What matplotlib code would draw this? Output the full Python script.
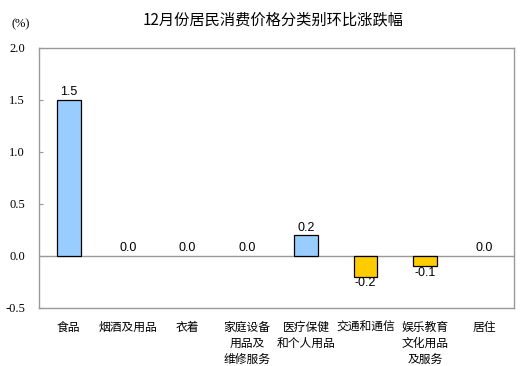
import numpy as np
import matplotlib.pyplot as plt

categories = ['食品', '烟酒及用品', '衣着', '家庭设备\n用品及\n维修服务', '医疗保健\n和个人用品',
              '交通和通信', '娱乐教育\n文化用品\n及服务', '居住']
values = [1.5, 0.0, 0.0, 0.0, 0.2, -0.2, -0.1, 0.0]
yticks = [-0.5, 0.0, 0.5, 1.0, 1.5, 2.0]
title = '12月份居民消费价格分类别环比涨跌幅'

cjk = ['Noto Sans CJK SC', 'DejaVu Sans']
serif = 'Liberation Serif'
sans = 'Liberation Sans'
blue = '#99CCFF'
gold = '#FFCC00'
grey = '#999999'

fig = plt.figure(figsize=(5.26, 3.66), dpi=100)
W, H = 526, 366
ax = fig.add_axes([39 / W, (H - 308) / H, (514 - 39) / W, (308 - 48) / H])

x = np.arange(len(categories))
colors = [blue if v >= 0 else gold for v in values]
edges = ['black' if v != 0 else 'none' for v in values]
ax.bar(x, values, width=0.4, color=colors, edgecolor=edges, linewidth=0.9, zorder=3)

for xi, v in zip(x, values):
    if v >= 0:
        ax.text(xi, v + 0.015, '%.1f' % v, ha='center', va='bottom', fontsize=9, family=sans)
    else:
        ax.text(xi, v - 0.005, '%.1f' % v, ha='center', va='top', fontsize=9, family=sans)

ax.axhline(0, color=grey, linewidth=1, zorder=2)
ax.set_xlim(-0.5, len(categories) - 0.5)
ax.set_ylim(-0.5, 2.0)
ax.set_yticks(yticks)
ax.set_yticklabels(['%.1f' % t for t in yticks], fontsize=9)
for lbl in ax.get_yticklabels():
    lbl.set_fontfamily(serif)
ax.tick_params(axis='y', direction='in', length=3, color=grey, pad=10)
ax.set_xticks(x)
ax.set_xticklabels(categories, fontsize=8.5, linespacing=1.3)
for lbl in ax.get_xticklabels():
    lbl.set_fontfamily(cjk)
ax.tick_params(axis='x', length=0, pad=9)
for s in ax.spines.values():
    s.set_color(grey)
    s.set_linewidth(1)

fig.text(273 / W, 1 - 20 / H, title, ha='center', va='center', fontsize=11, family=cjk)
fig.text(21 / W, 1 - 24 / H, '(%)', ha='center', va='center', fontsize=9, family=serif)

fig.savefig('out.png', dpi=100)
